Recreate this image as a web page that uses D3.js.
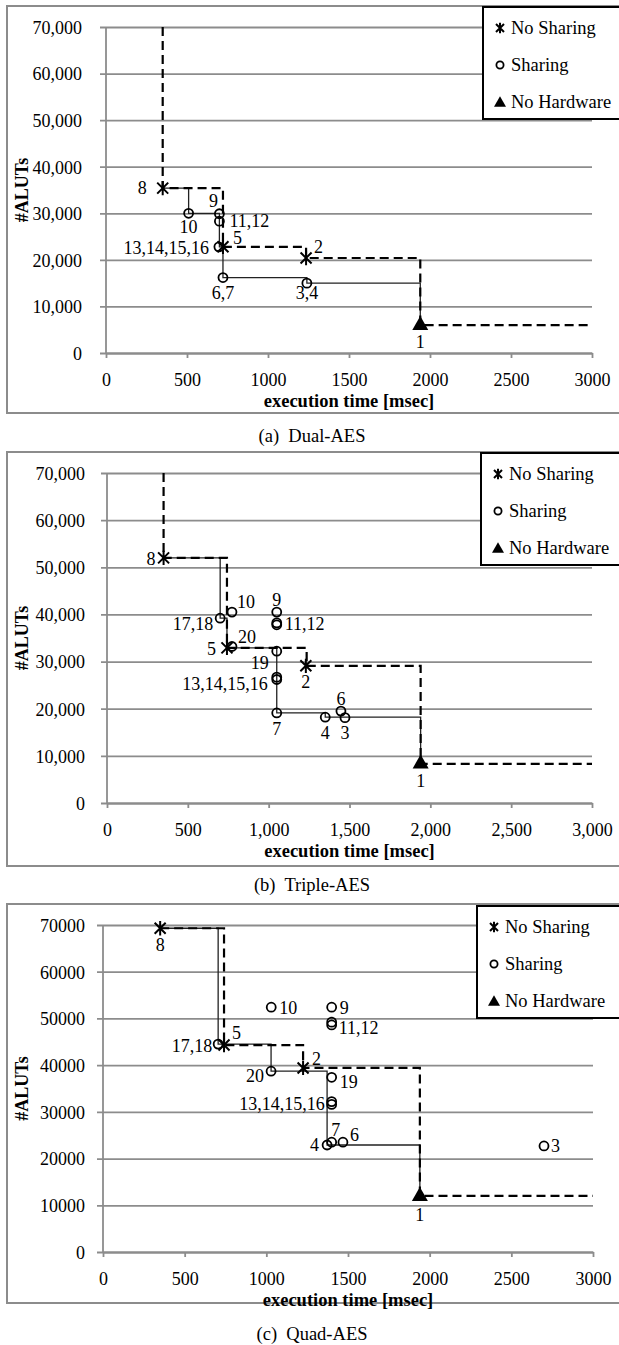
<!DOCTYPE html>
<html>
<head>
<meta charset="utf-8">
<script src="https://cdn.jsdelivr.net/npm/d3@7"></script>
<style>
  body { margin: 0; background: #fff; }
  text { font-family: "Liberation Serif", "Times New Roman", serif; fill: #000; }
</style>
</head>
<body>
<script>
// values (execution time in msec, #ALUTs)

const xTicks = [0, 500, 1000, 1500, 2000, 2500, 3000];
const yTicks = [0, 10000, 20000, 30000, 40000, 50000, 60000, 70000];
const legendNames = ["No Sharing", "Sharing", "No Hardware"];

// (a) Dual-AES
const noShareA = [
  { label: "8", x: 350, y: 35400 },
  { label: "5", x: 722, y: 22800 },
  { label: "2", x: 1235, y: 20400 }
];
const shareA = [
  { label: "10", x: 510, y: 30000 },
  { label: "9", x: 700, y: 29900 },
  { label: "11,12", x: 700, y: 28300 },
  { label: "13,14,15,16", x: 697, y: 22800 },
  { label: "6,7", x: 722, y: 16200 },
  { label: "3,4", x: 1240, y: 15000 }
];
const noHwA = [{ label: "1", x: 1940, y: 6000 }];
const frontNoShareA = [[350, 70000], [350, 35400], [722, 22800], [1235, 20400], [1940, 6000], [3000, 6000]];
const frontShareA = [[350, 35400], [510, 30000], [700, 29900], [700, 28300], [700, 22800], [722, 16200], [1240, 15000], [1940, 6000]];

// (b) Triple-AES  (unlabelled entries are the second design hidden under a label)
const noShareB = [
  { label: "8", x: 350, y: 52000 },
  { label: "5", x: 742, y: 32900 },
  { label: "2", x: 1230, y: 29100 }
];
const shareB = [
  { label: "17,18", x: 700, y: 39200 },
  { label: "10", x: 773, y: 40500 },
  { label: "20", x: 773, y: 33200 },
  { label: "9", x: 1050, y: 40500 },
  { label: "11,12", x: 1050, y: 38200 },
  { label: "", x: 1050, y: 37800 },
  { label: "19", x: 1050, y: 32200 },
  { label: "13,14,15,16", x: 1050, y: 26700 },
  { label: "", x: 1050, y: 26200 },
  { label: "7", x: 1050, y: 19100 },
  { label: "4", x: 1350, y: 18200 },
  { label: "6", x: 1447, y: 19500 },
  { label: "3", x: 1472, y: 18100 }
];
const noHwB = [{ label: "1", x: 1940, y: 8400 }];
const frontNoShareB = [[350, 70000], [350, 52000], [742, 32900], [1235, 29100], [1940, 8300], [3000, 8300]];
const frontShareB = [[350, 52000], [700, 39200], [742, 32900], [1050, 32200], [1050, 26500], [1050, 19100], [1350, 18200], [1940, 8300]];

// (c) Quad-AES
const noShareC = [
  { label: "8", x: 350, y: 69300 },
  { label: "5", x: 741, y: 44300 },
  { label: "2", x: 1225, y: 39400 }
];
const shareC = [
  { label: "17,18", x: 705, y: 44500 },
  { label: "10", x: 1030, y: 52400 },
  { label: "20", x: 1029, y: 38700 },
  { label: "9", x: 1400, y: 52400 },
  { label: "11,12", x: 1400, y: 49200 },
  { label: "", x: 1400, y: 48600 },
  { label: "19", x: 1400, y: 37400 },
  { label: "13,14,15,16", x: 1400, y: 32200 },
  { label: "", x: 1400, y: 31600 },
  { label: "7", x: 1400, y: 23500 },
  { label: "4", x: 1372, y: 22900 },
  { label: "6", x: 1469, y: 23500 },
  { label: "3", x: 2700, y: 22700 }
];
const noHwC = [{ label: "1", x: 1940, y: 12000 }];
const frontNoShareC = [[350, 69300], [741, 44300], [1225, 39400], [1940, 12000], [3000, 12000]];
const frontShareC = [[350, 69300], [705, 44500], [1029, 38700], [1372, 22900], [1940, 12000]];

// label offsets in px: [dx, dy, anchor]
const labelPosA = {
  "8": [-16, 0, "end"], "5": [10, -9, "start"], "2": [8, -11, "start"], "1": [0, 17, "middle"],
  "10": [0, 13, "middle"], "9": [-6, -13, "middle"], "11,12": [10, -1, "start"],
  "13,14,15,16": [-10, 1, "end"], "6,7": [0, 15, "middle"], "3,4": [0, 10, "middle"]
};
const labelPosB = {
  "8": [-8, 1, "end"], "5": [-11, 1, "end"], "2": [0, 16, "middle"], "1": [0, 17, "middle"],
  "17,18": [-7, 5, "end"], "10": [5, -10, "start"], "20": [6, -10, "start"], "9": [0, -12, "middle"],
  "11,12": [8, 1, "start"], "19": [-8, 11, "end"], "13,14,15,16": [-9, 7, "end"],
  "7": [0, 16, "middle"], "4": [0, 15, "middle"], "6": [0, -12, "middle"], "3": [0, 15, "middle"]
};
const labelPosC = {
  "8": [0, 16, "middle"], "5": [8, -12, "start"], "2": [9, -9, "start"], "1": [0, 19, "middle"],
  "17,18": [-6, 2, "end"], "10": [8, 0, "start"], "20": [-7, 4, "end"], "9": [8, 0, "start"],
  "11,12": [7, 6, "start"], "19": [8, 4, "start"], "13,14,15,16": [-7, 2, "end"],
  "7": [4, -13, "middle"], "4": [-8, 0, "end"], "6": [7, -8, "start"], "3": [7, 0, "start"]
};

const panels = [
  { top: 6, bottom: 413, plot: [106, 592, 27, 353], legend: [483, 7], yLabelEnd: 82,
    xFmt: d3.format("d"), yFmt: d3.format(","), caption: "(a)\u00a0 Dual-AES", captionY: 436,
    noShare: noShareA, share: shareA, noHw: noHwA, frontNo: frontNoShareA, frontSh: frontShareA, pos: labelPosA },
  { top: 452, bottom: 866, plot: [107, 592, 473, 803], legend: [481, 453], yLabelEnd: 85,
    xFmt: d3.format(","), yFmt: d3.format(","), caption: "(b)\u00a0 Triple-AES", captionY: 885,
    noShare: noShareB, share: shareB, noHw: noHwB, frontNo: frontNoShareB, frontSh: frontShareB, pos: labelPosB },
  { top: 904, bottom: 1303, plot: [103, 593, 925, 1252], legend: [477, 906], yLabelEnd: 85,
    xFmt: d3.format("d"), yFmt: d3.format("d"), caption: "(c)\u00a0 Quad-AES", captionY: 1334,
    noShare: noShareC, share: shareC, noHw: noHwC, frontNo: frontNoShareC, frontSh: frontShareC, pos: labelPosC }
];

const W = 619, H = 1345;
const grey = "#8c8c8c";
const serif = '"Liberation Serif", "Times New Roman", serif';

const svg = d3.select("body").append("svg")
  .attr("width", W)
  .attr("height", H);

svg.append("rect").attr("width", W).attr("height", H).attr("fill", "#fff");

const starPath = s => `M${-5*s},${-5*s}L${5*s},${5*s}M${-5*s},${5*s}L${5*s},${-5*s}M0,${-6.5*s}L0,${6.5*s}`;
const triPath = s => `M0,${-9*s}L${8*s},${5*s}L${-8*s},${5*s}Z`;

function drawStar(g, px, py, s) {
  g.append("path").attr("d", starPath(s))
    .attr("transform", `translate(${px},${py})`)
    .attr("fill", "none").attr("stroke", "#000").attr("stroke-width", 2);
}
function drawCircle(g, px, py, r) {
  g.append("circle").attr("cx", px).attr("cy", py).attr("r", r)
    .attr("fill", "none").attr("stroke", "#000").attr("stroke-width", 1.8);
}
function drawTri(g, px, py, s) {
  g.append("path").attr("d", triPath(s))
    .attr("transform", `translate(${px},${py})`)
    .attr("fill", "#000");
}

function drawPanel(p) {
  const [left, right, top, bottom] = p.plot;
  const x = d3.scaleLinear().domain([0, 3000]).range([left, right]);
  const y = d3.scaleLinear().domain([0, 70000]).range([bottom, top]);
  const g = svg.append("g");

  // outer frame (right edge runs off the page)
  g.append("rect")
    .attr("x", 7).attr("y", p.top)
    .attr("width", W + 10).attr("height", p.bottom - p.top)
    .attr("fill", "none").attr("stroke", grey).attr("stroke-width", 2);

  // grid + y labels
  const yAxis = g.append("g")
    .attr("transform", `translate(${left - 6},0)`)
    .call(d3.axisLeft(y).tickValues(yTicks).tickFormat(p.yFmt)
      .tickSizeInner(-(right - left + 6)).tickSizeOuter(0));
  yAxis.attr("font-family", null).attr("font-size", null);
  yAxis.select(".domain").remove();
  yAxis.selectAll(".tick line").attr("stroke", grey).attr("stroke-width", 1.8);
  yAxis.selectAll(".tick text")
    .attr("x", p.yLabelEnd - (left - 6))
    .attr("dy", "0.35em")
    .style("font-size", "18px")
    .style("font-family", serif);

  g.append("line")
    .attr("x1", left).attr("x2", left)
    .attr("y1", top).attr("y2", bottom)
    .attr("stroke", grey).attr("stroke-width", 1.8);

  // x axis
  const xAxis = g.append("g")
    .attr("transform", `translate(0,${bottom})`)
    .call(d3.axisBottom(x).tickValues(xTicks).tickFormat(p.xFmt).tickSizeInner(5).tickSizeOuter(0));
  xAxis.attr("font-family", null).attr("font-size", null);
  xAxis.select(".domain").attr("stroke", grey).attr("stroke-width", 1.8);
  xAxis.selectAll(".tick line").attr("stroke", grey).attr("stroke-width", 1.8);
  xAxis.selectAll(".tick text")
    .attr("y", 27).attr("dy", "0.35em")
    .style("font-size", "18px")
    .style("font-family", serif);

  g.append("text")
    .attr("x", (left + right) / 2).attr("y", bottom + 48).attr("dy", "0.35em")
    .attr("text-anchor", "middle")
    .style("font-size", "18.5px").style("font-weight", "bold")
    .text("execution time [msec]");

  g.append("text")
    .attr("transform", `translate(28,${(top + bottom) / 2}) rotate(-90)`)
    .attr("text-anchor", "middle")
    .style("font-size", "18px").style("font-weight", "bold")
    .text("#ALUTs");

  // step fronts
  const step = d3.line().x(d => x(d[0])).y(d => y(d[1])).curve(d3.curveStepAfter);
  g.append("path").attr("d", step(p.frontSh))
    .attr("fill", "none").attr("stroke", "#222").attr("stroke-width", 1.3);
  g.append("path").attr("d", step(p.frontNo))
    .attr("fill", "none").attr("stroke", "#000").attr("stroke-width", 2.2)
    .attr("stroke-dasharray", "9,5");

  // markers
  p.share.forEach(d => drawCircle(g, x(d.x), y(d.y), 4.5));
  p.noShare.forEach(d => drawStar(g, x(d.x), y(d.y), 1.1));
  p.noHw.forEach(d => drawTri(g, x(d.x), y(d.y), 1));

  // point labels
  const all = p.share.concat(p.noShare, p.noHw).filter(d => d.label);
  g.selectAll("text.pt").data(all).enter().append("text")
    .attr("class", "pt")
    .attr("x", d => x(d.x) + p.pos[d.label][0])
    .attr("y", d => y(d.y) + p.pos[d.label][1])
    .attr("dy", "0.35em")
    .attr("text-anchor", d => p.pos[d.label][2])
    .style("font-size", "18px")
    .text(d => d.label);

  // legend
  const [lx, ly] = p.legend;
  const lg = g.append("g");
  lg.append("rect").attr("x", lx).attr("y", ly).attr("width", 160).attr("height", 112)
    .attr("fill", "#fff").attr("stroke", "#000").attr("stroke-width", 2);
  const rows = [21, 58, 95];
  drawStar(lg, lx + 17, ly + rows[0], 0.8);
  drawCircle(lg, lx + 17, ly + rows[1], 3.6);
  drawTri(lg, lx + 17, ly + rows[2] + 1, 0.75);
  legendNames.forEach((name, i) => {
    lg.append("text")
      .attr("x", lx + 28).attr("y", ly + rows[i]).attr("dy", "0.35em")
      .style("font-size", "18.5px")
      .text(name);
  });

  // caption
  svg.append("text")
    .attr("x", 312).attr("y", p.captionY).attr("dy", "0.35em")
    .attr("text-anchor", "middle")
    .style("font-size", "18.5px")
    .text(p.caption);
}

panels.forEach(drawPanel);
</script>
</body>
</html>
